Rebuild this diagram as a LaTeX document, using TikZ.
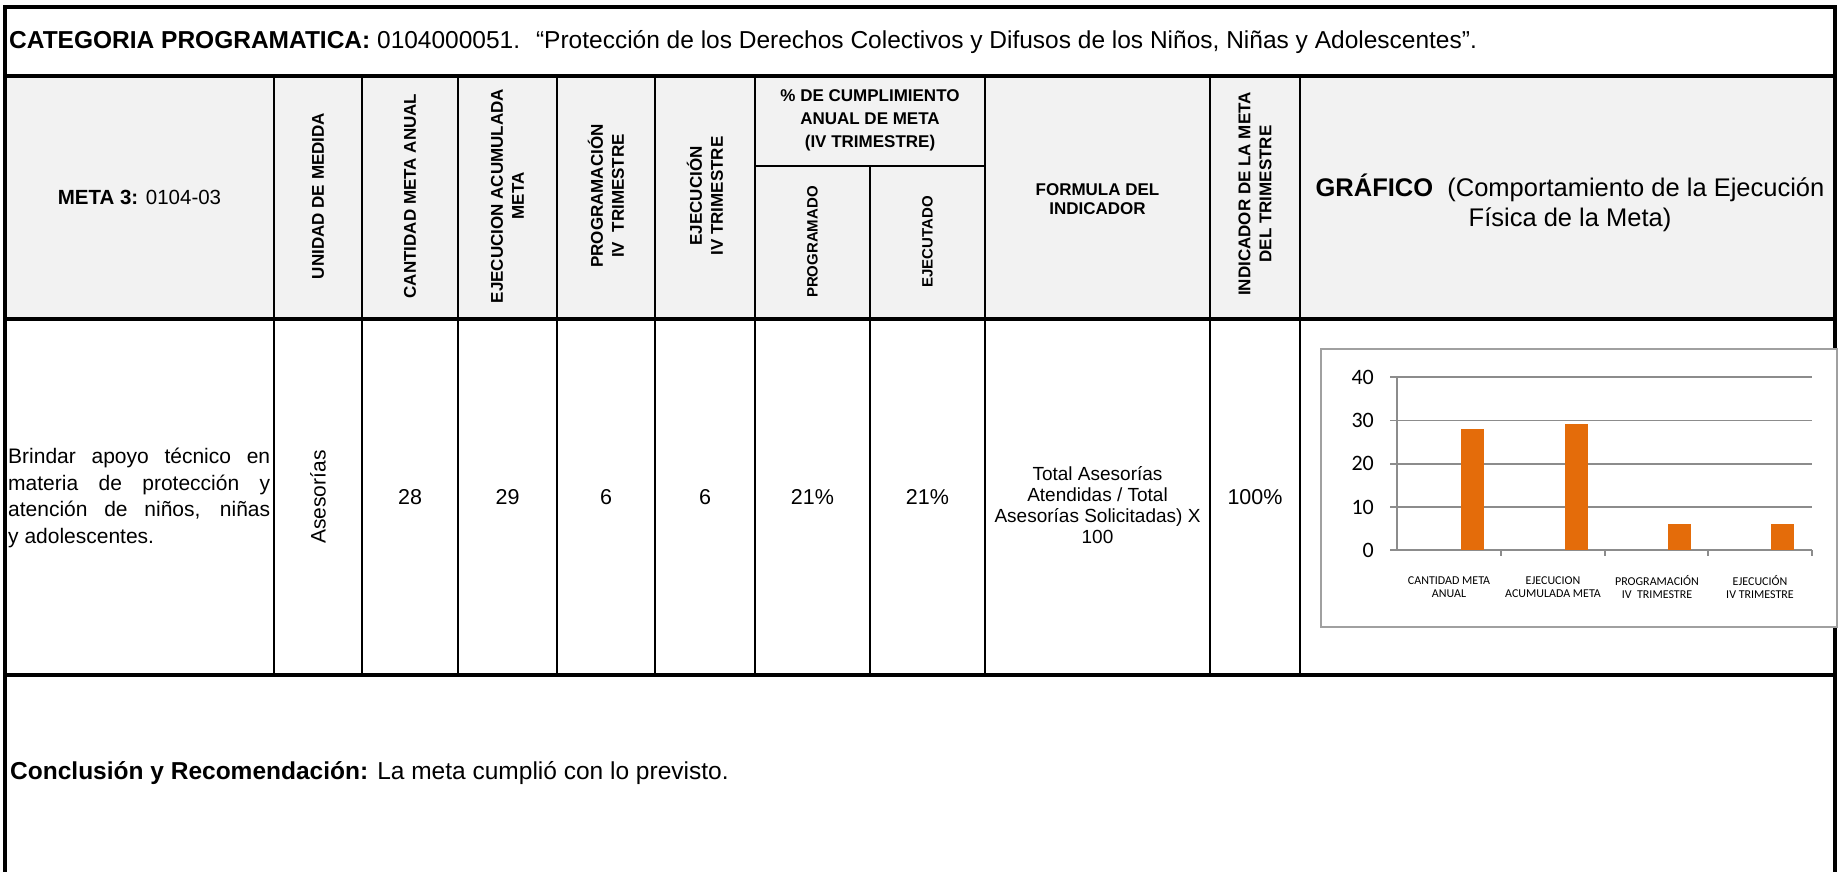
\documentclass[tikz,border=0pt]{standalone}
\usepackage{fontspec}
\setmainfont{Liberation Sans}
\newfontfamily\chartfont{Carlito}

\definecolor{headfill}{HTML}{F2F2F2}
\definecolor{barorange}{HTML}{E46C0A}
\definecolor{gridline}{HTML}{8C8C8C}
\definecolor{chartframe}{HTML}{A0A0A0}

\newcommand\fsz[2]{\fontsize{#1}{#2}\selectfont}
% rotated header cell
\newcommand\vhead[4]{\node[vtext] (#1) at (#2,#3) {#4};}
% data value in a column
\newcommand\cellval[4]{\node[datatext] (#1) at (#2,#3) {#4};}
% one bar of the chart
\newcommand\mybar[2]{\fill[barorange] ({#1-11.5},550) rectangle ({#1+11.5},{550-4.33*#2});}

\tikzset{
  vtext/.style={rotate=90, align=center, inner sep=0, font=\fsz{17}{21}\bfseries},
  htext/.style={align=center, inner sep=0, font=\fsz{17}{23}\bfseries},
  datatext/.style={align=center, inner sep=0, font=\fsz{21.5}{23}},
  thickrule/.style={line width=4.5pt},
  thinrule/.style={line width=2.6pt},
  catlabel/.style={align=center, inner sep=0, font=\chartfont\fsz{12}{13.5}},
  ylabel/.style={anchor=east, inner sep=0, font=\chartfont\fsz{22}{24}},
}

\begin{document}
\begin{tikzpicture}[x=1pt, y=-1pt]
    \useasboundingbox (0,0) rectangle (1841,871);
    \fill[headfill] (5,76) rectangle (1835,319);

    % column rules
    \draw[thinrule] (274,76) -- (274,675);
    \draw[thinrule] (362,76) -- (362,675);
    \draw[thinrule] (458,76) -- (458,675);
    \draw[thinrule] (557,76) -- (557,675);
    \draw[thinrule] (655,76) -- (655,675);
    \draw[thinrule] (755,76) -- (755,675);
    \draw[thinrule] (870,166) -- (870,675);
    \draw[thinrule] (985,76) -- (985,675);
    \draw[thinrule] (1210,76) -- (1210,675);
    \draw[thinrule] (1300,76) -- (1300,675);
    % split under % de cumplimiento
    \draw[thinrule] (755,166) -- (985,166);
    % row rules
    \draw[thickrule] (5,76) -- (1835,76);
    \draw[thickrule] (5,319) -- (1835,319);
    \draw[thickrule] (5,675) -- (1835,675);
    % outer frame
    \draw[thickrule] (5,890) -- (5,7) -- (1835,7) -- (1835,890);

    % title row
    \node[anchor=west, inner sep=0, font=\fsz{24.5}{28}] (title) at (9,42)
        {\textbf{CATEGORIA PROGRAMATICA:} 0104000051.~ “Protección de los Derechos Colectivos y Difusos de los Niños, Niñas y Adolescentes”.};

    % header row
    \node[inner sep=0, font=\fsz{20.5}{24}] (meta) at (139.5,197) {\textbf{META 3:} 0104-03};
    \vhead{unidad}{318}{196}{UNIDAD DE MEDIDA}
    \vhead{cantidad}{410}{196}{CANTIDAD META ANUAL}
    \vhead{ejecacum}{507.5}{196}{EJECUCION ACUMULADA\\META}
    \vhead{progtrim}{606}{196}{PROGRAMACIÓN\\IV~~TRIMESTRE}
    \vhead{ejectrim}{705}{196}{EJECUCIÓN\\IV TRIMESTRE}
    \node[htext] (cumpl) at (870,120) {\% DE CUMPLIMIENTO\\ANUAL DE META\\(IV TRIMESTRE)};
    \node[vtext, font=\fsz{15}{18}\bfseries] (programado) at (812.5,242) {PROGRAMADO};
    \node[vtext, font=\fsz{15}{18}\bfseries] (ejecutado) at (927.5,242) {EJECUTADO};
    \node[htext, font=\fsz{17}{19.5}\bfseries] (formula) at (1097.5,199) {FORMULA DEL\\INDICADOR};
    \vhead{indicador}{1255}{194}{INDICADOR DE LA META\\DEL TRIMESTRE}
    \node[align=center, inner sep=0, font=\fsz{25.5}{30}] (grafico) at (1570,203)
        {\textbf{GRÁFICO}~~(Comportamiento de la Ejecución\\Física de la Meta)};

    % data row
    \node[anchor=west, align=left, inner sep=0, font=\fsz{21}{26.5}] (desc) at (8,498)
        {\makebox[262pt][s]{Brindar apoyo técnico en}\\
         \makebox[262pt][s]{materia de protección y}\\
         \makebox[262pt][s]{atención de niños, niñas}\\
         y adolescentes.};
    \node[datatext, rotate=90, font=\fsz{21}{23}] (asesorias) at (318,497) {Asesorías};
    \cellval{meta28}{410}{497}{28}
    \cellval{ejec29}{507.5}{497}{29}
    \cellval{prog6}{606}{497}{6}
    \cellval{ejec6}{705}{497}{6}
    \cellval{pctprog}{812.5}{497}{21\%}
    \cellval{pctejec}{927.5}{497}{21\%}
    \node[align=center, inner sep=0, font=\fsz{19}{21}] (formtext) at (1097.5,505)
        {Total Asesorías\\Atendidas / Total\\Asesorías Solicitadas) X\\100};
    \cellval{indval}{1255}{497}{100\%}

    % chart
    \draw[chartframe, line width=2.5pt, fill=white] (1321,349) rectangle (1837,627);
    \draw[gridline, line width=1.6pt] (1390,377) -- (1812,377);
    \draw[gridline, line width=1.6pt] (1390,420.4) -- (1812,420.4);
    \draw[gridline, line width=1.6pt] (1390,463.8) -- (1812,463.8);
    \draw[gridline, line width=1.6pt] (1390,507.2) -- (1812,507.2);
    \draw[gridline, line width=1.6pt] (1390,550) -- (1812,550);
    \draw[gridline, line width=1.6pt] (1397,377) -- (1397,550);
    \draw[gridline, line width=1.2pt] (1501,550) -- (1501,556);
    \draw[gridline, line width=1.2pt] (1605,550) -- (1605,556);
    \draw[gridline, line width=1.2pt] (1708,550) -- (1708,556);
    \draw[gridline, line width=1.2pt] (1812,550) -- (1812,556);
    \node[ylabel] (y40) at (1374,377) {40};
    \node[ylabel] (y30) at (1374,420.4) {30};
    \node[ylabel] (y20) at (1374,463.8) {20};
    \node[ylabel] (y10) at (1374,507.2) {10};
    \node[ylabel] (y0) at (1374,550) {0};
    \mybar{1472.5}{28}
    \mybar{1576.5}{29}
    \mybar{1679.5}{6}
    \mybar{1782.5}{6}
    \node[catlabel] (cat1) at (1449,587) {CANTIDAD META\\ANUAL};
    \node[catlabel] (cat2) at (1553,587) {EJECUCION\\ACUMULADA META};
    \node[catlabel] (cat3) at (1657,587) {PROGRAMACIÓN\\IV~~TRIMESTRE};
    \node[catlabel] (cat4) at (1760,587) {EJECUCIÓN\\IV TRIMESTRE};

    % conclusion row
    \node[anchor=west, inner sep=0, font=\fsz{24.5}{28}] (concl) at (10,773)
        {\textbf{Conclusión y Recomendación:} La meta cumplió con lo previsto.};
\end{tikzpicture}
\end{document}
